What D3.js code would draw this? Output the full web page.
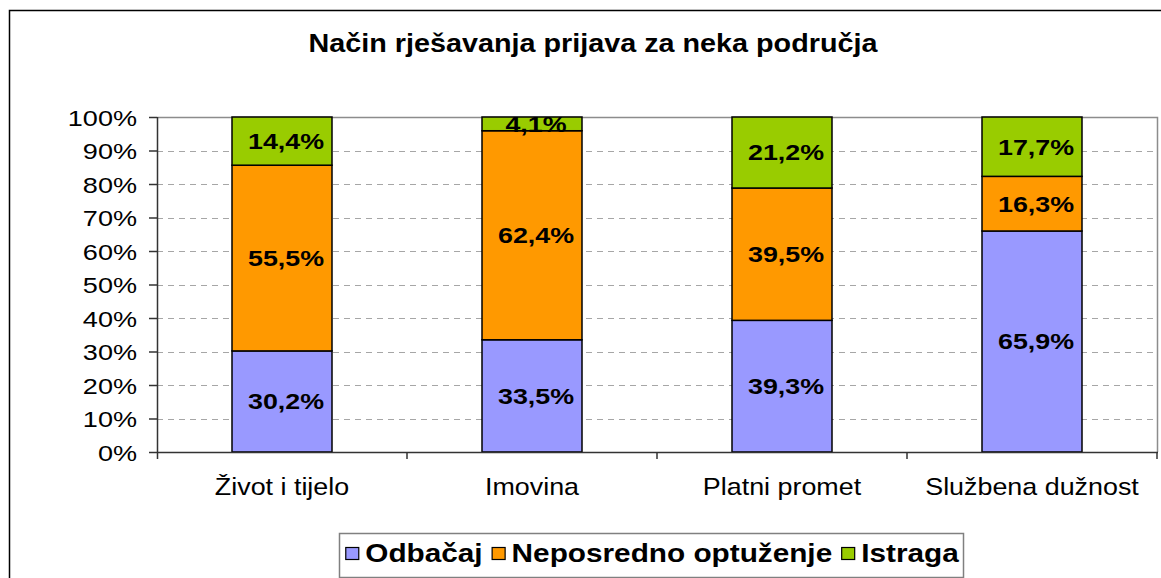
<!DOCTYPE html>
<html>
<head>
<meta charset="utf-8">
<script src="https://cdn.jsdelivr.net/npm/d3@7"></script>
<style>
  body { margin: 0; background: #fff; }
  svg { display: block; font-family: Arial, "Liberation Sans", sans-serif; }
</style>
</head>
<body>
<div id="chart"></div>
<script>
// data
const categories = ["Život i tijelo", "Imovina", "Platni promet", "Službena dužnost"];
const seriesNames = ["Odbačaj", "Neposredno optuženje", "Istraga"];
const odbacaj = [30.2, 33.5, 39.3, 65.9];
const neposredno = [55.5, 62.4, 39.5, 16.3];
const istraga = [14.4, 4.1, 21.2, 17.7];
const yTicks = [0, 0.1, 0.2, 0.3, 0.4, 0.5, 0.6, 0.7, 0.8, 0.9, 1];
const colors = ["#9999ff", "#ff9900", "#99cc00"];

const W = 1161, H = 578;
const plot = {left: 157, right: 1157, top: 117, bottom: 452};

const rows = categories.map((c, i) => ({
    cat: c,
    "Odbačaj": odbacaj[i],
    "Neposredno optuženje": neposredno[i],
    "Istraga": istraga[i]
}));

const stack = d3.stack().keys(seriesNames).offset(d3.stackOffsetExpand);
const layers = stack(rows);

const svg = d3.select("#chart").append("svg")
    .attr("width", W)
    .attr("height", H);

svg.append("rect").attr("width", W).attr("height", H).attr("fill", "#fff");

// outer chart border
svg.append("rect")
    .attr("x", 9.5).attr("y", 10.5)
    .attr("width", 1300).attr("height", 700)
    .attr("fill", "none")
    .attr("stroke", "#000")
    .attr("stroke-width", 1.5);

// title
svg.append("text")
    .attr("transform", `translate(593, 52) scale(1.15,1)`)
    .attr("text-anchor", "middle")
    .attr("font-weight", "bold")
    .attr("font-size", 25)
    .text("Način rješavanja prijava za neka područja");

let x = d3.scaleBand()
    .domain(categories)
    .range([plot.left, plot.right])
    .paddingInner(0.6)
    .paddingOuter(0.3);

let y = d3.scaleLinear()
    .domain([0, 1])
    .range([plot.bottom, plot.top]);

// plot area border (top + right)
svg.append("path")
    .attr("d", `M${plot.left},${plot.top + 0.5}H${plot.right + 0.5}V${plot.bottom}`)
    .attr("fill", "none")
    .attr("stroke", "#8c8c8c")
    .attr("stroke-width", 1.5);

// dashed gridlines
svg.selectAll(".grid")
    .data(yTicks.filter(t => t > 0 && t < 1))
    .enter().append("line")
    .attr("class", "grid")
    .attr("x1", plot.left).attr("x2", plot.right)
    .attr("y1", d => Math.round(y(d)) + 0.5)
    .attr("y2", d => Math.round(y(d)) + 0.5)
    .attr("stroke", "#a6a6a6")
    .attr("stroke-width", 1.2)
    .attr("stroke-dasharray", "6,5");

// bars
let layer = svg.selectAll(".layer")
    .data(layers)
    .enter().append("g")
    .attr("class", "layer")
    .attr("fill", (d, i) => colors[i]);

layer.selectAll("rect")
    .data(d => d)
    .enter().append("rect")
    .attr("x", d => x(d.data.cat))
    .attr("y", d => y(d[1]))
    .attr("width", x.bandwidth())
    .attr("height", d => y(d[0]) - y(d[1]))
    .attr("stroke", "#000")
    .attr("stroke-width", 1.5);

// value labels
layers.forEach(function (l) {
    svg.selectAll(".lbl-" + l.index)
        .data(l)
        .enter().append("text")
        .attr("class", "lbl-" + l.index)
        .attr("transform", d => `translate(${x(d.data.cat) + x.bandwidth() / 2 + 4}, ${y((d[0] + d[1]) / 2)}) scale(1.22,1)`)
        .attr("text-anchor", "middle")
        .attr("dy", "0.36em")
        .attr("font-weight", "bold")
        .attr("font-size", 22)
        .text(d => d3.format(".1f")(d.data[l.key]).replace(".", ",") + "%");
});

// y axis
let yAxis = svg.append("g")
    .attr("transform", `translate(${plot.left},0)`)
    .call(d3.axisLeft(y).tickValues(yTicks).tickSize(8).tickSizeOuter(0)
        .tickFormat(d => Math.round(d * 100) + "%"));
yAxis.select(".domain").attr("stroke", "#333").attr("stroke-width", 1.5)
    .attr("d", `M0.5,${plot.top}V${plot.bottom + 7}`);
yAxis.selectAll(".tick line").attr("stroke", "#333").attr("stroke-width", 1.5);
yAxis.selectAll(".tick text")
    .attr("x", null)
    .attr("dy", null)
    .attr("transform", "translate(-20,8) scale(1.23,1)")
    .attr("font-size", 22)
    .attr("font-family", null)
    .attr("fill", "#000");

// x axis with ticks on category boundaries
let gap = (x.step() - x.bandwidth()) / 2;
let bounds = categories.map(c => x(c) - gap).concat([plot.right]);
let xAxis = svg.append("g");
xAxis.append("line")
    .attr("x1", plot.left).attr("x2", plot.right + 1)
    .attr("y1", plot.bottom + 0.5).attr("y2", plot.bottom + 0.5)
    .attr("stroke", "#333").attr("stroke-width", 1.5);
xAxis.selectAll(".xt")
    .data(bounds.slice(1))
    .enter().append("line")
    .attr("x1", d => d).attr("x2", d => d)
    .attr("y1", plot.bottom).attr("y2", plot.bottom + 7)
    .attr("stroke", "#333").attr("stroke-width", 1.5);
xAxis.selectAll(".xl")
    .data(categories)
    .enter().append("text")
    .attr("transform", d => `translate(${x(d) + x.bandwidth() / 2}, 495) scale(1.12,1)`)
    .attr("text-anchor", "middle")
    .attr("font-size", 24)
    .text(d => d);

// legend: items laid out one after another, centred in the box
let legendBox = {x: 339, y: 533, w: 624, h: 44};
let legend = svg.append("g");
legend.append("rect")
    .attr("x", legendBox.x + 0.5).attr("y", legendBox.y + 0.5)
    .attr("width", legendBox.w).attr("height", legendBox.h)
    .attr("fill", "#fff")
    .attr("stroke", "#808080")
    .attr("stroke-width", 1.5);

let sx = 1.19, mark = 13, gapIn = 7, gapOut = 9;
let items = legend.append("g");
let cursor = 0;
seriesNames.forEach(function (name, i) {
    items.append("rect")
        .attr("x", cursor + 0.5).attr("y", 547.5)
        .attr("width", mark).attr("height", 12)
        .attr("fill", colors[i])
        .attr("stroke", "#000")
        .attr("stroke-width", 1.2);
    cursor += mark + gapIn;
    let t = items.append("text")
        .attr("transform", `translate(${cursor}, 562) scale(${sx},1)`)
        .attr("font-weight", "bold")
        .attr("font-size", 25)
        .text(name);
    cursor += t.node().getComputedTextLength() * sx + gapOut;
});
cursor -= gapOut;
items.attr("transform", `translate(${legendBox.x + (legendBox.w - cursor) / 2 + 1},0)`);
</script>
</body>
</html>
